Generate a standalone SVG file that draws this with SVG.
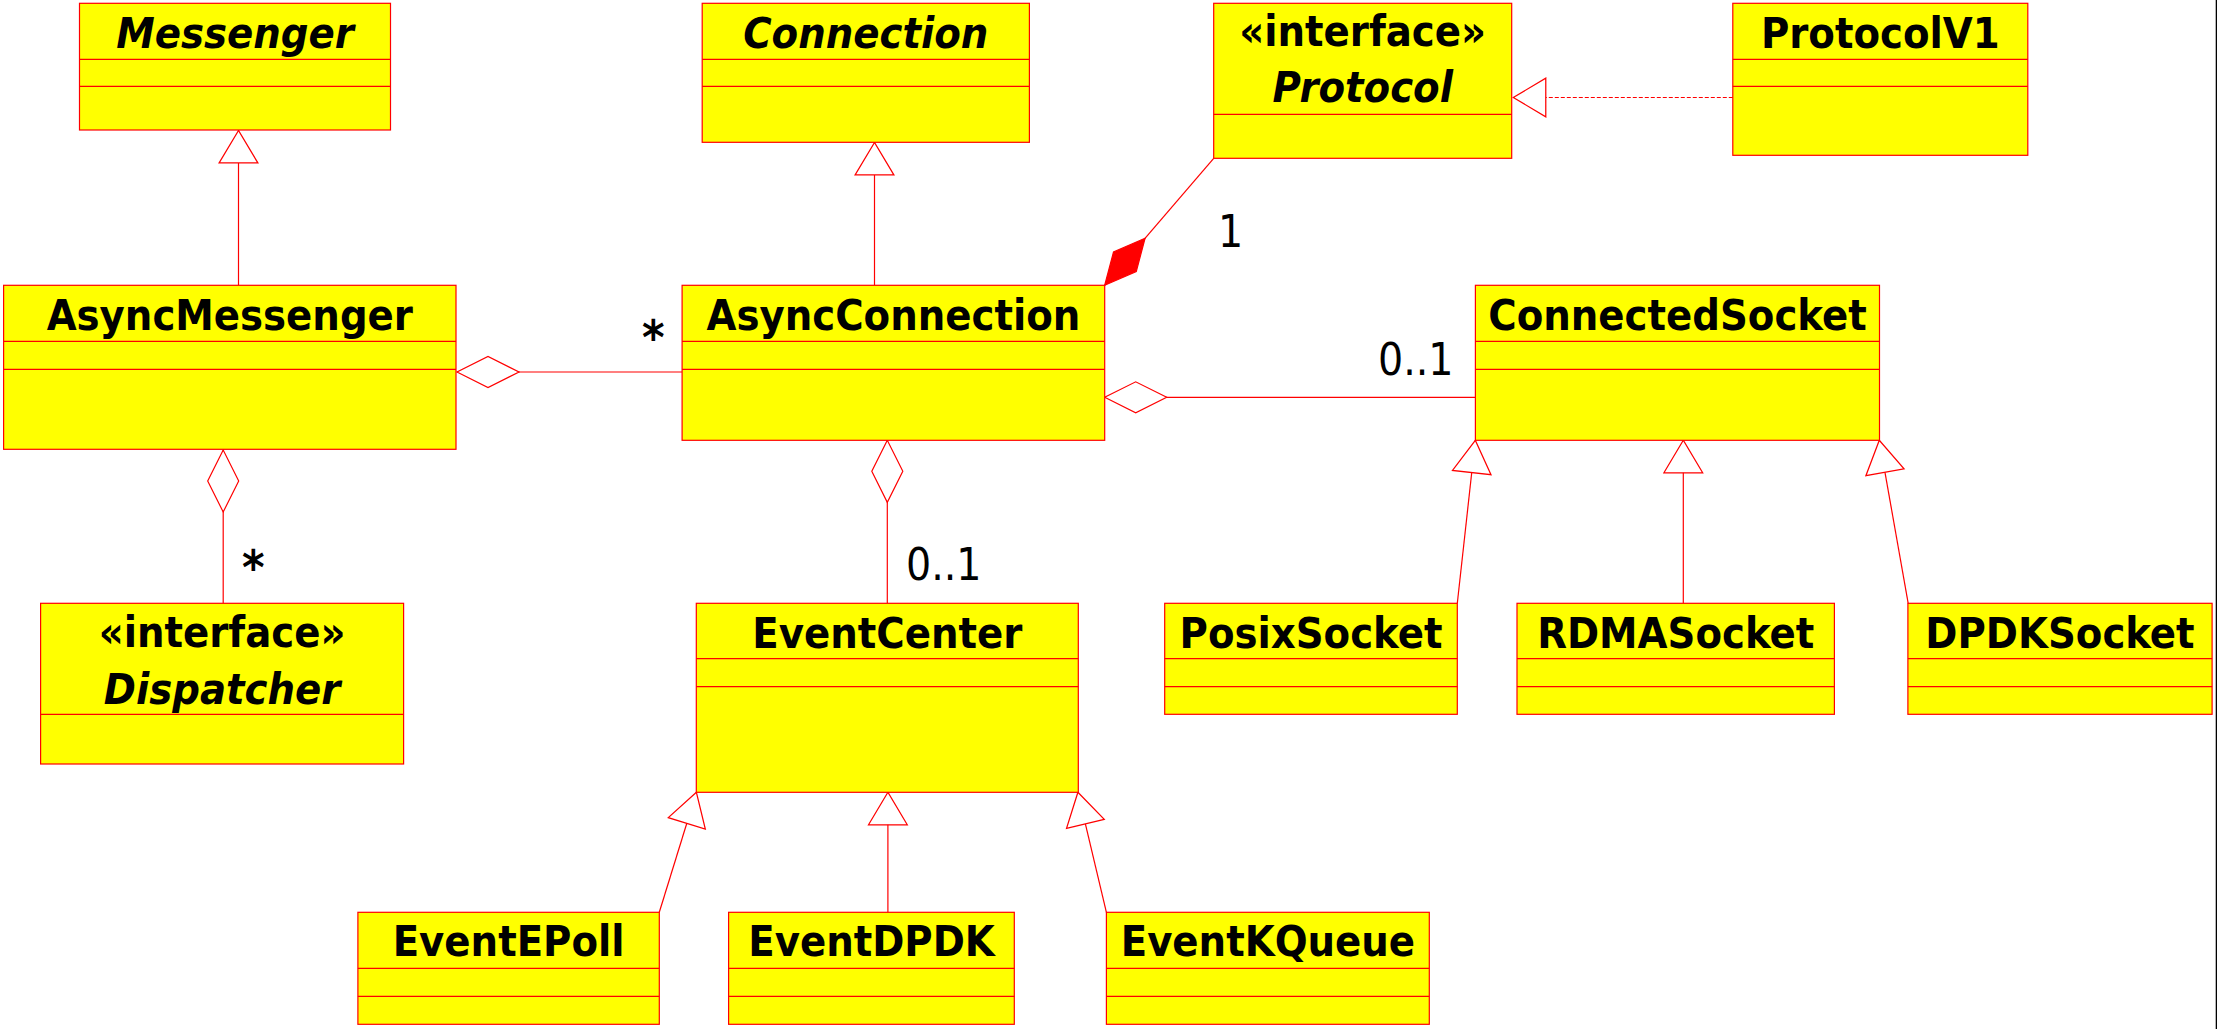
<svg xmlns="http://www.w3.org/2000/svg" width="2217" height="1029" viewBox="0 0 2217 1029">
<style>
.box{fill:#ffff00;stroke:#ff0000;stroke-width:1.2}
.sep{stroke:#ff0000;stroke-width:1.2;fill:none}
.t{font-family:"DejaVu Sans Condensed","DejaVu Sans",sans-serif;font-stretch:condensed;font-weight:bold;font-size:43px;fill:#000;text-anchor:middle}
.i{font-style:italic}
.m{font-family:"DejaVu Sans Condensed","DejaVu Sans",sans-serif;font-stretch:condensed;font-size:44px;fill:#000}
.s{font-weight:bold;font-size:48px}
.c{stroke:#ff0000;stroke-width:1.2;fill:none}
.d{stroke-dasharray:4 2}
</style>
<defs>
<marker id="tri" markerUnits="userSpaceOnUse" markerWidth="40" markerHeight="44" viewBox="-33 -21 36 42" refX="0" refY="0" orient="auto" overflow="visible">
<path d="M0,0 L-31,-18.5 L-31,18.5 Z" fill="#ffffff" stroke="#ff0000" stroke-width="1.2"/>
</marker>
<marker id="dia" markerUnits="userSpaceOnUse" markerWidth="66" markerHeight="36" viewBox="-64 -18 66 36" refX="0" refY="0" orient="auto" overflow="visible">
<path d="M0,0 L-31,-15.5 L-62,0 L-31,15.5 Z" fill="#ffffff" stroke="#ff0000" stroke-width="1.2"/>
</marker>
<marker id="fdia" markerUnits="userSpaceOnUse" markerWidth="66" markerHeight="36" viewBox="-64 -18 66 36" refX="0" refY="0" orient="auto" overflow="visible">
<path d="M0,0 L-31,-15 L-62,0 L-31,15 Z" fill="#ff0000" stroke="#ff0000" stroke-width="1.2"/>
</marker>
</defs>
<rect x="0" y="0" width="2217" height="1029" fill="#ffffff"/>

<g id="connectors">
<path class="c" d="M238.5,285.3 L238.5,130.5" marker-end="url(#tri)"/>
<path class="c" d="M874.5,285.3 L874.5,142.5" marker-end="url(#tri)"/>
<path class="c" d="M682,372 L457,372" marker-end="url(#dia)"/>
<path class="c" d="M223.2,603.3 L223.2,450" marker-end="url(#dia)"/>
<path class="c" d="M1213.7,158.3 L1104.7,285.3" marker-end="url(#fdia)"/>
<path class="c" d="M1475.4,397.3 L1104.7,397.3" marker-end="url(#dia)"/>
<path class="c d" d="M1732.8,97.5 L1513.3,97.5" marker-end="url(#tri)"/>
<path class="c" d="M887.3,603.3 L887.3,440.3" marker-end="url(#dia)"/>
<path class="c" d="M1457.3,603.3 L1475.3,440.3" marker-end="url(#tri)"/>
<path class="c" d="M1683.3,603.3 L1683.3,440.3" marker-end="url(#tri)"/>
<path class="c" d="M1908.2,603.3 L1879.3,440.3" marker-end="url(#tri)"/>
<path class="c" d="M659.3,912.3 L696.4,792.3" marker-end="url(#tri)"/>
<path class="c" d="M887.9,912.3 L887.9,792.3" marker-end="url(#tri)"/>
<path class="c" d="M1106.4,912.3 L1077.9,792.3" marker-end="url(#tri)"/>
<text class="m s" x="642" y="354">*</text>
<text class="m s" x="242" y="584">*</text>
<text class="m" x="1218" y="247">1</text>
<text class="m" x="1378" y="375">0..1</text>
<text class="m" x="906" y="580">0..1</text>
</g>

<g id="Messenger">
<rect class="box" x="79.5" y="3.3" width="311" height="126.7"/>
<path class="sep" d="M79.5,59.3 H390.5 M79.5,86.3 H390.5"/>
<text class="t i" x="235" y="47.7">Messenger</text>
</g>
<g id="Connection">
<rect class="box" x="702.2" y="3.3" width="327.2" height="139"/>
<path class="sep" d="M702.2,59.3 H1029.4 M702.2,86.3 H1029.4"/>
<text class="t i" x="865.8" y="47.7">Connection</text>
</g>
<g id="Protocol">
<rect class="box" x="1213.7" y="3.3" width="298" height="155"/>
<path class="sep" d="M1213.7,114.3 H1511.7"/>
<text class="t" x="1362.7" y="46">«interface»</text>
<text class="t i" x="1362.7" y="101.7">Protocol</text>
</g>
<g id="ProtocolV1">
<rect class="box" x="1732.8" y="3.3" width="295" height="152"/>
<path class="sep" d="M1732.8,59.3 H2027.8 M1732.8,86.3 H2027.8"/>
<text class="t" x="1880.3" y="47.7">ProtocolV1</text>
</g>
<g id="AsyncMessenger">
<rect class="box" x="3.6" y="285.3" width="452.4" height="164"/>
<path class="sep" d="M3.6,341.3 H456 M3.6,369.3 H456"/>
<text class="t" x="229.8" y="330">AsyncMessenger</text>
</g>
<g id="AsyncConnection">
<rect class="box" x="682.1" y="285.3" width="422.6" height="155"/>
<path class="sep" d="M682.1,341.3 H1104.7 M682.1,369.3 H1104.7"/>
<text class="t" x="893.4" y="330">AsyncConnection</text>
</g>
<g id="ConnectedSocket">
<rect class="box" x="1475.4" y="285.3" width="404.1" height="155"/>
<path class="sep" d="M1475.4,341.3 H1879.5 M1475.4,369.3 H1879.5"/>
<text class="t" x="1677.5" y="330">ConnectedSocket</text>
</g>
<g id="Dispatcher">
<rect class="box" x="40.6" y="603.3" width="363" height="160.7"/>
<path class="sep" d="M40.6,714.3 H403.6"/>
<text class="t" x="222.1" y="647.3">«interface»</text>
<text class="t i" x="222.1" y="704">Dispatcher</text>
</g>
<g id="EventCenter">
<rect class="box" x="696.3" y="603.3" width="382" height="189"/>
<path class="sep" d="M696.3,658.7 H1078.3 M696.3,686.7 H1078.3"/>
<text class="t" x="887.3" y="648.3">EventCenter</text>
</g>
<g id="PosixSocket">
<rect class="box" x="1164.7" y="603.3" width="292.6" height="111"/>
<path class="sep" d="M1164.7,658.7 H1457.3 M1164.7,686.7 H1457.3"/>
<text class="t" x="1311" y="647.5">PosixSocket</text>
</g>
<g id="RDMASocket">
<rect class="box" x="1517" y="603.3" width="317.4" height="111"/>
<path class="sep" d="M1517,658.7 H1834.4 M1517,686.7 H1834.4"/>
<text class="t" x="1675.7" y="647.5">RDMASocket</text>
</g>
<g id="DPDKSocket">
<rect class="box" x="1907.9" y="603.3" width="304.2" height="111"/>
<path class="sep" d="M1907.9,658.7 H2212.1 M1907.9,686.7 H2212.1"/>
<text class="t" x="2060" y="647.5">DPDKSocket</text>
</g>
<g id="EventEPoll">
<rect class="box" x="357.9" y="912.3" width="301.4" height="112"/>
<path class="sep" d="M357.9,968.3 H659.3 M357.9,996.3 H659.3"/>
<text class="t" x="508.6" y="956">EventEPoll</text>
</g>
<g id="EventDPDK">
<rect class="box" x="728.6" y="912.3" width="285.7" height="112"/>
<path class="sep" d="M728.6,968.3 H1014.3 M728.6,996.3 H1014.3"/>
<text class="t" x="871.5" y="956">EventDPDK</text>
</g>
<g id="EventKQueue">
<rect class="box" x="1106.4" y="912.3" width="322.9" height="112"/>
<path class="sep" d="M1106.4,968.3 H1429.3 M1106.4,996.3 H1429.3"/>
<text class="t" x="1267.9" y="956">EventKQueue</text>
</g>
<rect x="2215.7" y="0" width="1.3" height="1029" fill="#000000"/>
</svg>
